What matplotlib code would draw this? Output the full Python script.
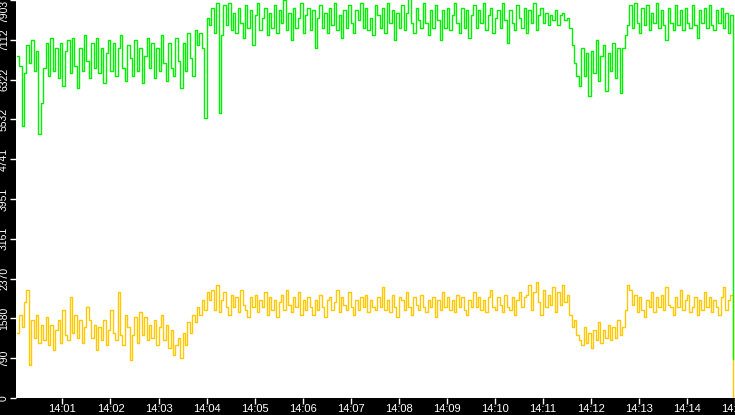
import matplotlib
matplotlib.use("Agg")
import matplotlib.pyplot as plt
from matplotlib import font_manager
import numpy as np

# samples every 3 s starting at 14:00:03
step_s = 3

green = [
    # 14:00 - 14:03:48, lower level
    6800, 6600, 5400, 6450, 7000, 6650, 7100, 6500, 6900, 5250,
    5850, 6550, 7050, 6400, 7150, 6500, 6950, 6350, 7050, 6200,
    6900, 7100, 6450, 7150, 6600, 6150, 6950, 6500, 7200, 6700,
    6350, 7050, 6550, 7150, 6450, 6950, 6250, 6850, 7100, 6500,
    7050, 6400, 6950, 7200, 6550, 6300, 7000, 6750, 6400, 7100,
    6500, 6950, 6250, 6800, 7150, 6550, 7050, 6350, 6950, 6500,
    7200, 6650, 6300, 7050, 6550, 6400, 7150, 6700, 6150, 7050,
    6500, 7250, 6750, 6400, 7300, 7000,
    # rise
    7250, 6950, 5550, 7550,
    # upper level to 14:11:30
    7400, 7750, 7250, 7850, 5650, 7200, 7800, 7400, 7850, 7300,
    7650, 7250, 7750, 7450, 7150, 7800, 7350, 7700, 7000, 7600,
    7850, 7300, 7550, 7750, 7200, 7650, 7350, 7800, 7250, 7700,
    7450, 7900, 7300, 7650, 7100, 7750, 7350, 7550, 7850, 7250,
    7600, 7750, 7300, 7700, 6950, 7550, 7800, 7350, 7650, 7250,
    7750, 7400, 7850, 7300, 7600, 7150, 7700, 7350, 7800, 7450,
    7250, 7700, 7500, 7850, 7350, 7750, 7300, 7550, 7200, 7800,
    7600, 7350, 7750, 7250, 7850, 7450, 7700, 7100, 7650, 7350,
    7800, 7300, 7650, 7950, 7450, 7250, 7750, 7500, 7350, 7850,
    7450, 7200, 7700, 7350, 7800, 7500, 7100, 7700, 7350, 7750,
    7300, 7600, 7850, 7450, 7250, 7750, 7350, 7700, 7150, 7600,
    7800, 7350, 7700, 7450, 7850, 7300, 7600, 7750, 7250, 7550,
    7700, 7350, 7850, 7500, 7050, 7700, 7450, 7300, 7800, 7550,
    7350, 7750, 7250, 7700, 7450, 7850, 7300, 7600, 7750, 7450,
    7650, 7400, 7600, 7500, 7700, 7400, 7600, 7650, 7500, 7550,
    # drop
    7350, 7000, 6650, 6400,
    # dip 14:11:45 - 14:12:36
    6200, 6950, 6400, 6850, 6000, 6900, 6450, 7100, 6300, 6800,
    7000, 6100, 6850, 6500, 7050, 6350, 6950, 6050,
    # back up
    6950, 7200, 7400,
    7800, 7350, 7850, 7450, 7250, 7750, 7400, 7800, 7300, 7650,
    7450, 7850, 7350, 7700, 7400, 7100, 7750, 7450, 7300, 7800,
    7400, 7700, 7300, 7750, 7450, 7350, 7800, 7400, 7150, 7700,
    7450, 7750, 7350, 7800, 7400, 7300, 7700, 7450, 7750, 7350,
    7650, 7250, 7600,
    780,
]

yellow = [
    1300, 1650, 1400, 1900, 2150, 650, 1550, 1200, 1650, 1100,
    1450, 1150, 1600, 1050, 1450, 950, 1350, 1550, 1100, 1750,
    1250, 1150, 2000, 1300, 1650, 1200, 1550, 1100, 1400, 1800,
    1550, 1200, 1450, 950, 1400, 1150, 1550, 1050, 1350, 1750,
    1300, 1150, 2100, 1250, 1050, 1650, 1400, 750, 1250, 1600,
    1100, 1700, 1250, 1600, 1150, 1450, 1200, 1550, 1050, 1400,
    1650, 1150, 1450, 1000, 1350, 850, 1050, 1200, 800, 1300,
    1050, 1500, 1300, 1650, 1500, 1800,
    1650, 1950, 1750, 2100,
    1950, 2150, 1750, 2250, 1700, 1950, 2100, 1800, 1650, 2050,
    1800, 2000, 1700, 2150, 1850, 1750, 1600, 2000, 1800, 2050,
    1700, 1950, 1800, 2100, 1650, 2000, 1750, 1950, 1600, 1900,
    2050, 1750, 2150, 1850, 1700, 2000, 1800, 2100, 1650, 1950,
    1750, 2000, 1800, 1650, 1950, 1750, 2050, 1800, 1600, 1950,
    2000, 1750, 1900, 2150, 1700, 2000, 1850, 1750, 2100, 1800,
    1650, 1950, 1750, 2000, 1800, 2050, 1700, 1950, 1800, 1750,
    2000, 1800, 2200, 1750, 1950, 1700, 2050, 1800, 1600, 2000,
    1950, 1750, 2100, 1800, 1650, 2000, 1850, 1750, 2050, 1800,
    1700, 1950, 1800, 2000, 1600, 1950, 1750, 2100, 1800, 2000,
    1750, 1950, 1700, 2050, 1800, 2000, 1750, 1650, 1950, 1800,
    2100, 1800, 2000, 1750, 1950, 1700, 2000, 2150, 1800, 1750,
    2000, 1850, 1700, 2050, 1800, 1750, 2000, 1650, 1950, 2100,
    1800, 2000, 2050, 2250, 1750, 2100, 2300, 1900, 1650, 2150,
    1800, 2050, 1850, 2200, 1700, 2100, 1850, 2250, 1900, 2050,
    1650, 1400, 1550, 1250,
    1150, 1050, 1400, 1100, 1300, 1000, 1350, 1150, 1500, 1100,
    1350, 1200, 1450, 1150, 1400, 1200, 1550, 1250,
    1400, 1750, 2250,
    2150, 1850, 2050, 1700, 2000, 1750, 1600, 1950, 1800, 2100,
    1700, 2000, 1800, 2050, 1750, 2200, 1850, 1800, 1650, 2000,
    1800, 2150, 1750, 1950, 2050, 1700, 1800, 2000, 1650, 1950,
    1750, 2100, 1800, 2000, 1700, 1950, 1800, 1650, 2000, 2200,
    1750, 1950, 2050,
    0,
]

y_ticks = [0, 790, 1580, 2370, 3161, 3951, 4741, 5532, 6322, 7112, 7903]
x_ticks = list(range(60, 901, 60))
x_labels = ["14:%02d" % (s // 60) for s in x_ticks]

t_green = step_s + step_s * np.arange(len(green))
t_yellow = step_s + step_s * np.arange(len(yellow))

# narrow font if there is one, else plain Liberation Sans a bit smaller
names = {f.name for f in font_manager.fontManager.ttflist}
if "Liberation Sans Narrow" in names:
    lab_font, xsize, ysize = "Liberation Sans Narrow", 9, 8.5
else:
    lab_font, xsize, ysize = "Liberation Sans", 8, 7.5

fig = plt.figure(figsize=(7.35, 4.15), dpi=100, facecolor="black")
ax = fig.add_axes([16 / 735, 17 / 415, 719 / 735, 398 / 415])
ax.set_facecolor("white")

ax.plot(t_yellow, yellow, color="#ffc800", lw=1, drawstyle="steps-post")
ax.plot(t_green, green, color="#00f000", lw=1, drawstyle="steps-post")

ax.set_xlim(2, 900)
ax.set_ylim(0, 7903)

for s in ax.spines.values():
    s.set_visible(False)

ax.set_xticks(x_ticks)
ax.set_xticklabels(x_labels, family=lab_font, size=xsize, color="white")
ax.set_yticks(y_ticks)
ax.set_yticklabels([str(v) for v in y_ticks], rotation=90, va="center",
                   family=lab_font, size=ysize, color="white")
ax.get_yticklabels()[-1].set_va("top")
ax.tick_params(axis="x", colors="white", length=4, width=1, pad=0.5)
ax.tick_params(axis="y", colors="white", length=4, width=1, pad=1)

fig.savefig("out.png", dpi=100, facecolor="black")
